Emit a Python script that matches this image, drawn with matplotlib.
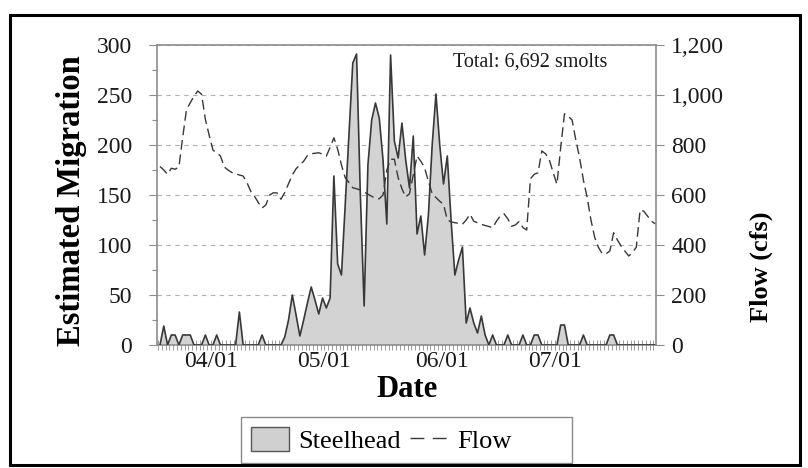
import matplotlib
matplotlib.use('Agg')
import matplotlib.pyplot as plt
import matplotlib.dates as mdates
import matplotlib.ticker as mticker
from matplotlib.patches import Rectangle, Patch
from matplotlib.lines import Line2D
import pandas as pd

# Daily values, 18 Mar - 27 Jul
dates = pd.date_range('2010-03-18', '2010-07-27', freq='D')

steelhead = [
    0, 19, 0, 10, 10, 0, 10, 10, 10, 0, 0, 0, 10, 0,
    0, 10, 0, 0, 0, 0, 0, 33, 0, 0,
    0, 0, 0, 10, 0, 0, 0, 0, 0, 8,
    25, 50, 30, 9, 25, 42, 58, 45, 31, 47,
    37, 47, 169, 81, 70, 140, 210, 282, 291, 150,
    39, 180, 225, 242, 227, 185, 121, 290, 204, 187,
    222, 185, 157, 209, 111, 129, 90, 130, 200, 251,
    200, 161, 189, 125, 70, 85, 98, 22, 37, 22,
    12, 29, 10, 0, 10, 0, 0, 0, 10, 0,
    0, 0, 10, 0, 0, 10, 10, 0, 0, 0,
    0, 0, 20, 20, 0, 0, 0, 0, 10, 0,
    0, 0, 0, 0, 0, 10, 10, 0, 0, 0,
    0, 0, 0, 0, 0, 0, 0, 0,
]

flow = [
    714, 700, 683, 707, 703, 712, 830, 940, 969, 995, 1016, 1003, 903, 840,
    780, 768, 756, 712, 700, 690, 685, 680, 676, 650,
    615, 595, 570, 548, 560, 600, 609, 608, 583, 610,
    645, 680, 705, 720, 735, 758, 765, 767, 769, 763,
    756, 790, 829, 783, 720, 669, 650, 629, 625, 620,
    612, 603, 595, 586, 585, 600, 700, 743, 743, 669,
    625, 592, 605, 680, 756, 735, 709, 655, 605, 590,
    575, 563, 500, 493, 489, 487, 483, 500, 523, 495,
    489, 483, 478, 474, 469, 495, 516, 525, 505, 475,
    480, 494, 470, 460, 665, 683, 689, 776, 765, 740,
    690, 643, 790, 925, 915, 900, 820, 749, 660, 590,
    500, 430, 390, 365, 365, 376, 449, 420, 395, 375,
    356, 370, 392, 540, 535, 515, 495, 485,
]

total_label = 'Total: 6,692 smolts'

plt.rcParams['font.family'] = ['Liberation Serif', 'DejaVu Serif']

axis_gray = '#8c8c8c'
line_dark = '#383838'
W, H = 808, 468

fig = plt.figure(figsize=(8.08, 4.68), dpi=100)
ax = fig.add_axes([157 / W, 1 - 345 / H, 499 / W, 300 / H])
ax2 = ax.twinx()

# plot each day in the middle of its tick interval
x = dates + pd.Timedelta(hours=12)
ax.fill_between(x, 0, steelhead, facecolor='#d3d3d3', edgecolor='none', zorder=2)
ax.plot(x, steelhead, color=line_dark, lw=1.2, zorder=3)
ax2.plot(x, flow, color=line_dark, lw=1.0, dashes=(7, 3.5))

ax.set_xlim(pd.Timestamp('2010-03-17 17:00'), pd.Timestamp('2010-07-27 17:00'))
ax.set_ylim(0, 300)
ax2.set_ylim(0, 1200)

ax.set_axisbelow(True)
ax.yaxis.grid(True, which='major', linestyle=(0, (4, 4)), color='#b0b0b0', lw=0.8)

# y axes
ax.yaxis.set_major_locator(mticker.MultipleLocator(50))
ax.yaxis.set_minor_locator(mticker.MultipleLocator(25))
ax.tick_params(axis='y', which='major', direction='out', length=6, width=0.8,
               color=axis_gray, labelsize=17, pad=12, labelcolor='#1a1a1a')
ax.tick_params(axis='y', which='minor', direction='out', length=3.5, width=0.8,
               color=axis_gray)

ax2.yaxis.set_major_locator(mticker.MultipleLocator(200))
ax2.yaxis.set_major_formatter(mticker.StrMethodFormatter('{x:,.0f}'))
ax2.tick_params(axis='y', direction='out', length=6, width=0.8, color=axis_gray,
                labelsize=17, pad=5, labelcolor='#1a1a1a')

# date axis: a tick every day, labels on the first of the month
ax.xaxis.set_major_locator(mdates.MonthLocator())
ax.xaxis.set_minor_locator(mdates.DayLocator())
ax.xaxis.set_major_formatter(mdates.DateFormatter('%m/%d'))
ax.tick_params(axis='x', which='both', direction='inout', length=6.5, width=0.7,
               color='#9a9a9a', labelsize=17, pad=1, labelcolor='#1a1a1a')

for side in ['left', 'bottom']:
    ax.spines[side].set_color(axis_gray)
    ax.spines[side].set_linewidth(1.2)
for side in ['top', 'right']:
    ax.spines[side].set_visible(False)
    ax2.spines[side].set_color(axis_gray)
    ax2.spines[side].set_linewidth(1.2)
ax2.spines['left'].set_visible(False)
ax2.spines['bottom'].set_visible(False)

ax.set_ylabel('Estimated Migration', fontsize=23.5, fontweight='bold', va='center')
ax.yaxis.set_label_coords(-0.172, 0.48)
ax2.set_ylabel('Flow (cfs)', fontsize=19, fontweight='bold', va='center')
ax2.yaxis.set_label_coords(1.212, 0.26)
ax.set_xlabel('Date', fontsize=22, fontweight='bold', va='center')
ax.xaxis.set_label_coords(0.501, -0.147)

ax.text(0.594, 0.943, total_label, transform=ax.transAxes, fontsize=14.5,
        va='center', ha='left', color='#1a1a1a')

# legend: entries left-aligned inside a wider box
handles = [Patch(facecolor='#d0d0d0', edgecolor='#555555', lw=1.0),
           Line2D([], [], color=line_dark, lw=1.0, dashes=(10, 6))]
fig.legend(handles, ['Steelhead', 'Flow'], loc='center left',
           bbox_to_anchor=(251 / W, 1 - 440 / H), ncol=2, fontsize=19,
           frameon=False, handlelength=1.44, handleheight=1.0,
           handletextpad=0.34, columnspacing=0.35, borderpad=0, borderaxespad=0)
fig.add_artist(Rectangle((241 / W, 1 - 463 / H), 331 / W, 46 / H,
                         transform=fig.transFigure, fill=False, lw=1.0,
                         edgecolor='#8a8a8a'))

# black frame round the whole chart
fig.add_artist(Rectangle((9.5 / W, 3 / H), 790.5 / W, 450.5 / H,
                         transform=fig.transFigure, fill=False, lw=2.2,
                         edgecolor='black'))

fig.savefig('out.png', dpi=100)
